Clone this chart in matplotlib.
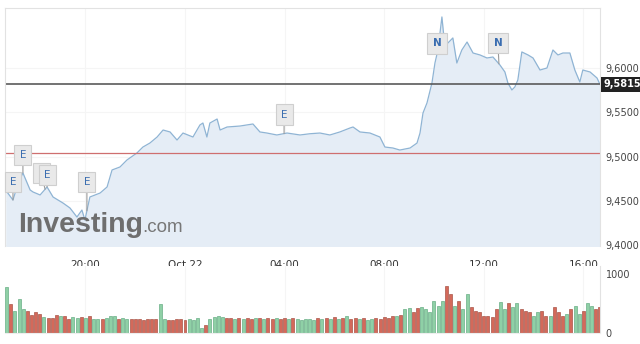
import numpy as np
import matplotlib.pyplot as plt
from matplotlib.transforms import blended_transform_factory

# price series: hours relative to 00:00 Oct 22
hours = [-7.20, -6.91, -6.70, -6.51, -6.22, -6.10, -5.82, -5.54, -5.30, -4.90,
         -4.62, -4.34, -4.14, -4.02, -3.82, -3.41, -3.13, -2.93, -2.61, -2.33,
         -1.93, -1.69, -1.41, -1.12, -0.88, -0.60, -0.32, -0.08, 0.32, 0.60,
         0.72, 0.88, 1.00, 1.29, 1.41, 1.69, 2.21, 2.73, 3.01, 3.29,
         3.69, 4.10, 4.62, 5.02, 5.42, 5.82, 6.22, 6.63, 6.75, 7.03,
         7.43, 7.83, 8.03, 8.35, 8.63, 9.04, 9.32, 9.44, 9.56, 9.72,
         9.92, 10.04, 10.16, 10.32, 10.44, 10.56, 10.76, 10.92, 11.12, 11.33,
         11.57, 11.85, 12.13, 12.37, 12.65, 12.85, 12.97, 13.13, 13.25, 13.37,
         13.53, 13.78, 13.98, 14.26, 14.54, 14.78, 14.98, 15.18, 15.46, 15.66,
         15.86, 15.98, 16.27, 16.55, 16.67]
prices = [9.4620, 9.4510, 9.4700, 9.4815, 9.4623, 9.4600, 9.4567, 9.4657, 9.4544, 9.4476,
          9.4420, 9.4318, 9.4397, 9.4284, 9.4544, 9.4589, 9.4657, 9.4849, 9.4883, 9.4962,
          9.5041, 9.5108, 9.5153, 9.5221, 9.5300, 9.5278, 9.5187, 9.5266, 9.5221, 9.5357,
          9.5379, 9.5221, 9.5379, 9.5424, 9.5300, 9.5334, 9.5345, 9.5368, 9.5278, 9.5266,
          9.5244, 9.5266, 9.5244, 9.5258, 9.5266, 9.5244, 9.5278, 9.5323, 9.5334, 9.5278,
          9.5266, 9.5221, 9.5108, 9.5097, 9.5074, 9.5097, 9.5153, 9.5266, 9.5492, 9.5605,
          9.5831, 9.6056, 9.6203, 9.6576, 9.6237, 9.6282, 9.6339, 9.6056, 9.6203, 9.6293,
          9.6169, 9.6147, 9.6113, 9.6124, 9.6034, 9.5955, 9.5831, 9.5752, 9.5786, 9.5865,
          9.6181, 9.6147, 9.6113, 9.5977, 9.6000, 9.6203, 9.6147, 9.6169, 9.6169, 9.5977,
          9.5842, 9.5977, 9.5955, 9.5887, 9.5815]
last_price = 9.5815
prev_close = 9.5040

# event flags
flag_letters = ['E', 'E', 'E', 'E', 'E', 'E', 'N', 'N']
flag_hours = [-6.91, -6.51, -5.62, -5.54, -3.94, 3.98, 10.12, 12.61]

# volume bars, 10 minute steps from 16:50
vol_start = -7 - 10 / 60
vol_step = 10 / 60
volumes = [780, 500, 380, 570, 400, 370, 300, 350, 320, 270, 250,
           250, 300, 290, 280, 240, 270, 260, 270, 250, 280,
           240, 240, 240, 250, 290, 280, 240, 250, 240, 240,
           240, 230, 215, 230, 230, 240, 490, 240, 215, 215,
           230, 230, 215, 240, 215, 260, 90, 140, 230, 270,
           280, 270, 250, 260, 240, 250, 230, 260, 240, 260,
           250, 230, 260, 240, 250, 230, 250, 240, 260, 230,
           220, 230, 230, 220, 250, 240, 260, 240, 270, 230,
           250, 280, 240, 260, 230, 250, 220, 240, 250, 240,
           270, 260, 290, 280, 300, 400, 430, 350, 430, 440,
           410, 360, 540, 460, 540, 800, 660, 460, 540, 410,
           660, 440, 380, 360, 290, 290, 270, 410, 530, 410,
           510, 440, 510, 410, 380, 360, 290, 360, 380, 290,
           290, 440, 360, 290, 330, 410, 460, 330, 380, 510, 460, 410, 440]
vol_dir = ("GRGGGRRRRGR" "RRGRRGGRGR" "GGRGGGRGGR" "RRRRRRGGRR" "RRRGGGGRGG"
           "GGRRGRGRRG" "RGRRGRRGRG" "GGGGRGRGRG" "RGRRGRGGRR" "RRRGRGGRRG"
           "GGGGGRRGRG" "GRRRRRRRGG" "RGGRRRGGRR" "GRRRGRGGRGGRR")

tick_hours = [-4, 0, 4, 8, 12, 16]
tick_labels = ['20:00', 'Oct 22', '04:00', '08:00', '12:00', '16:00']
price_ticks = [9.40, 9.45, 9.50, 9.55, 9.60]

W, H = 640, 344
fig = plt.figure(figsize=(W / 100, H / 100), dpi=100)
x0, x1 = 5, 600
ax = fig.add_axes([x0 / W, 1 - 246 / H, (x1 - x0) / W, 238 / H])
axv = fig.add_axes([x0 / W, 1 - 333 / H, (x1 - x0) / W, 67 / H])

xlim = (-7.23, 16.67)
grid_c = '#f5f5f5'

# main price panel
ax.set_xlim(*xlim)
ax.set_ylim(9.3991, 9.6677)
ax.fill_between(hours, prices, 9.3, color='#e5edf6', lw=0)
ax.plot(hours, prices, color='#8fb4d4', lw=0.9)
ax.axhline(prev_close, color='#cf6f6f', lw=0.9)
ax.axhline(last_price, color='#5a5a5a', lw=1.2)
ax.set_xticks(tick_hours)
ax.set_xticklabels(tick_labels)
ax.set_yticks(price_ticks)
ax.set_yticklabels([f'{v:.4f}'.replace('.', ',') for v in price_ticks])
ax.yaxis.tick_right()
ax.tick_params(axis='y', length=0, pad=4, labelsize=7, labelcolor='#444444')
ax.tick_params(axis='x', length=0, pad=10, labelsize=7.5, labelcolor='#333333')
ax.grid(True, color=grid_c, lw=0.8)
ax.set_axisbelow(True)
for s in ['top', 'left', 'right']:
    ax.spines[s].set_color('#e2e2e2')
ax.spines['bottom'].set_visible(False)

# current price tag
tr = blended_transform_factory(ax.transAxes, ax.transData)
ax.text(1.006, last_price, f'{last_price:.4f}'.replace('.', ','), transform=tr,
        ha='left', va='center', fontsize=7, color='white', fontweight='bold',
        bbox=dict(boxstyle='square,pad=0.25', fc='#222222', ec='none'))

# event flags
flag_lift = [18, 18, 16, 12, 29, 19, 11, 21]
flag_dx = [0, 0, -4, 0, 0, 0, 0, -1]
for letter, h, lift, dx in zip(flag_letters, flag_hours, flag_lift, flag_dx):
    p = np.interp(h, hours, prices)
    ax.annotate(letter, xy=(h, p), xytext=(dx * 0.72, lift * 0.72),
                textcoords='offset points', ha='center', va='center',
                fontsize=7.5, color='#3a6db0',
                fontweight='bold' if letter == 'N' else 'normal',
                bbox=dict(boxstyle='square,pad=0.5', fc='#e9e9e9', ec='#cfcfcf', lw=0.8),
                arrowprops=dict(arrowstyle='-', color='#9a9a9a', lw=0.8,
                                shrinkA=0, shrinkB=0))

# logo
ax.text(0.022, 0.058, 'Investing', transform=ax.transAxes, ha='left', va='baseline',
        fontsize=20.5, fontweight='bold', color='#6e6e6e', family='Liberation Sans')
ax.text(0.231, 0.058, '.com', transform=ax.transAxes, ha='left', va='baseline',
        fontsize=13.5, color='#777777', family='Liberation Sans')

# volume panel
vx = vol_start + vol_step * np.arange(len(volumes))
fills = ['#8fd0a6' if d == 'G' else '#d4695a' for d in vol_dir]
edges = ['#6aae86' if d == 'G' else '#a9574a' for d in vol_dir]
axv.bar(vx, volumes, width=vol_step * 0.72, color=fills, edgecolor=edges, lw=0.5)
axv.set_xlim(*xlim)
axv.set_ylim(0, 1136)
axv.set_xticks(tick_hours)
axv.set_xticklabels([])
axv.set_yticks([0, 1000])
axv.set_yticklabels(['0', '1000'])
axv.yaxis.tick_right()
axv.tick_params(axis='y', length=0, pad=4, labelsize=7, labelcolor='#444444')
axv.tick_params(axis='x', length=0)
axv.grid(True, axis='x', color=grid_c, lw=0.8)
axv.set_axisbelow(True)
for s in ['top', 'left']:
    axv.spines[s].set_visible(False)
axv.spines['right'].set_color('#e2e2e2')
axv.spines['bottom'].set_color('#eeeeee')

fig.savefig('out.png', dpi=100, facecolor='white')
